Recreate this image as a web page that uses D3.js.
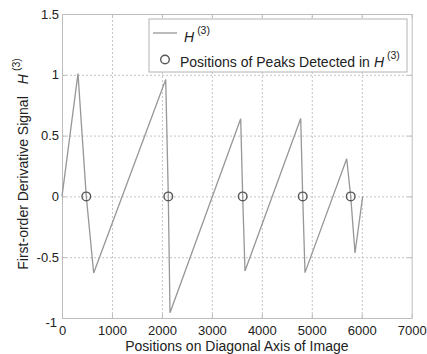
<!DOCTYPE html>
<html>
<head>
<meta charset="utf-8">
<script src="https://cdn.jsdelivr.net/npm/d3@7"></script>
<style>
  body { margin: 0; background: #fff; }
  svg { font-family: "Liberation Sans", Arial, sans-serif; }
</style>
</head>
<body>
<div id="chart"></div>
<script>
// signal H(3): vertices of the piecewise-linear curve
const posX = [0, 320, 486, 634, 2076, 2128, 2162, 3577, 3617, 3663, 4778, 4818, 4864, 5699, 5779, 5865, 6019];
const sigY = [0, 1.01, 0, -0.63, 0.962, 0, -0.957, 0.639, 0, -0.614, 0.641, 0, -0.627, 0.31, 0, -0.465, 0];
// detected peak positions (on the zero line)
const peakX = [486, 2128, 3617, 4818, 5779];
const peakY = [0, 0, 0, 0, 0];
const xTicks = [0, 1000, 2000, 3000, 4000, 5000, 6000, 7000];
const yTicks = [-1, -0.5, 0, 0.5, 1, 1.5];

const W = 427, H = 354;
const margin = { top: 14, right: 15.3, bottom: 36, left: 62 };
const width = W - margin.left - margin.right;
const height = H - margin.top - margin.bottom;

const svg = d3.select("#chart").append("svg")
  .attr("width", W)
  .attr("height", H);

const g = svg.append("g")
  .attr("transform", `translate(${margin.left},${margin.top})`);

const x = d3.scaleLinear().domain([0, 7000]).range([0, width]);
const y = d3.scaleLinear().domain([-1, 1.5]).range([height, 0]);

// dotted grid
g.append("g")
  .attr("transform", `translate(0,${height})`)
  .call(d3.axisBottom(x).tickValues(xTicks.slice(1, -1)).tickSize(-height).tickFormat(""))
  .call(a => a.select(".domain").remove())
  .selectAll("line").attr("stroke", "#c4c4c4").attr("stroke-dasharray", "2,2");
g.append("g")
  .call(d3.axisLeft(y).tickValues(yTicks.slice(1, -1)).tickSize(-width).tickFormat(""))
  .call(a => a.select(".domain").remove())
  .selectAll("line").attr("stroke", "#c4c4c4").attr("stroke-dasharray", "2,2");

// axes with inward ticks
const fmt = d => String(d);
const xb = g.append("g")
  .attr("transform", `translate(0,${height})`)
  .call(d3.axisBottom(x).tickValues(xTicks).tickSizeInner(-4).tickSizeOuter(0).tickPadding(8).tickFormat(fmt));
const yl = g.append("g")
  .call(d3.axisLeft(y).tickValues(yTicks).tickSizeInner(-4).tickSizeOuter(0).tickPadding(3).tickFormat(fmt));
const xt = g.append("g")
  .call(d3.axisTop(x).tickValues(xTicks).tickSizeInner(-4).tickSizeOuter(0).tickFormat(""));
const yr = g.append("g")
  .attr("transform", `translate(${width},0)`)
  .call(d3.axisRight(y).tickValues(yTicks).tickSizeInner(-4).tickSizeOuter(0).tickFormat(""));

[xb, yl, xt, yr].forEach(a => {
  a.select(".domain").attr("stroke", "#bdbdbd");
  a.selectAll(".tick line").attr("stroke", "#bdbdbd");
  a.selectAll(".tick text").attr("fill", "#222").style("font-size", "13px");
});
// matlab-like placement of the -1 label
yl.selectAll(".tick text").filter(d => d === -1).attr("dy", "0.62em").attr("x", -5);

// signal line
const line = d3.line().x((d, i) => x(posX[i])).y(d => y(d));
g.append("path")
  .datum(sigY)
  .attr("d", line)
  .attr("fill", "none")
  .attr("stroke", "#979797")
  .attr("stroke-width", 1.3);

// peak markers
g.selectAll("circle.peak")
  .data(peakX)
  .enter().append("circle")
  .attr("class", "peak")
  .attr("cx", d => x(d))
  .attr("cy", (d, i) => y(peakY[i]))
  .attr("r", 4.3)
  .attr("fill", "none")
  .attr("stroke", "#585858")
  .attr("stroke-width", 1.4);

// legend
const lg = svg.append("g");
lg.append("rect")
  .attr("x", 149).attr("y", 19).attr("width", 258).attr("height", 53)
  .attr("fill", "#fff").attr("stroke", "#b4b4b4").attr("stroke-width", 1);
lg.append("line")
  .attr("x1", 153).attr("x2", 177).attr("y1", 33).attr("y2", 33)
  .attr("stroke", "#979797").attr("stroke-width", 1.3);
const t1 = lg.append("text").attr("x", 184).attr("y", 41.5).attr("fill", "#222").style("font-size", "14px");
t1.append("tspan").attr("font-style", "italic").text("H");
t1.append("tspan").attr("dx", 3).attr("dy", -8).style("font-size", "10.5px").text("(3)");
lg.append("circle")
  .attr("cx", 165).attr("cy", 59.5).attr("r", 4.3)
  .attr("fill", "none").attr("stroke", "#585858").attr("stroke-width", 1.4);
const t2 = lg.append("text").attr("x", 180).attr("y", 66.5).attr("fill", "#222").style("font-size", "14px");
t2.append("tspan").text("Positions of Peaks Detected in");
t2.append("tspan").attr("dx", 4).attr("font-style", "italic").text("H");
t2.append("tspan").attr("dx", 3).attr("dy", -8).style("font-size", "10.5px").text("(3)");

// axis titles
svg.append("text")
  .attr("x", margin.left + width / 2).attr("y", 351)
  .attr("text-anchor", "middle").attr("fill", "#222").style("font-size", "14px")
  .text("Positions on Diagonal Axis of Image");
const yt = svg.append("text")
  .attr("transform", `translate(28,${margin.top + height / 2 - 2}) rotate(-90)`)
  .attr("text-anchor", "middle").attr("fill", "#222").style("font-size", "14px");
yt.append("tspan").text("First-order Derivative Signal");
yt.append("tspan").attr("dx", 12).attr("font-style", "italic").text("H");
yt.append("tspan").attr("dx", 3).attr("dy", -8).style("font-size", "10.5px").text("(3)");
</script>
</body>
</html>
